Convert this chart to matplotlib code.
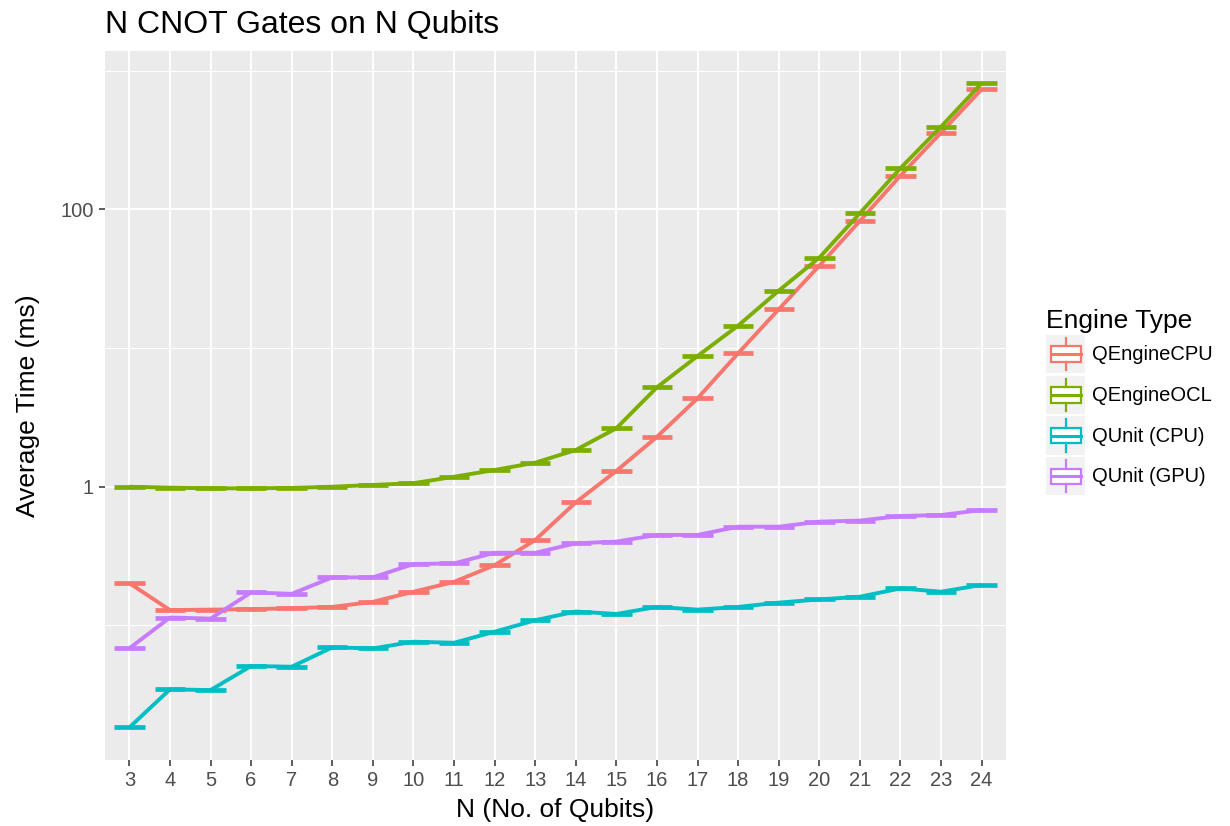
# N CNOT gates on N qubits - tiempos promedio por motor
import numpy as np
import matplotlib.pyplot as plt
from matplotlib.legend_handler import HandlerBase
from matplotlib.patches import Rectangle
from matplotlib.lines import Line2D
from matplotlib.ticker import NullFormatter

plt.rcParams["font.family"] = ["Liberation Sans", "DejaVu Sans"]

# Datos (ms)
n_qubits = list(range(3, 25))
engines = ["QEngineCPU", "QEngineOCL", "QUnit (CPU)", "QUnit (GPU)"]
colores = ["#F8766D", "#7CAE00", "#00BFC4", "#C77CFF"]

qengine_cpu = [0.202, 0.129, 0.130, 0.131, 0.133, 0.136, 0.148, 0.175, 0.206, 0.272,
               0.413, 0.772, 1.30, 2.29, 4.34, 9.16, 19.0, 39.2, 82.4, 175, 357, 733]
qengine_ocl = [1.00, 0.984, 0.974, 0.974, 0.980, 1.00, 1.03, 1.06, 1.18, 1.32,
               1.49, 1.84, 2.64, 5.21, 8.75, 14.5, 25.9, 44.8, 93.6, 198, 394, 810]
qunit_cpu = [0.0184, 0.0346, 0.0342, 0.0510, 0.0504, 0.0695, 0.0683, 0.0763, 0.0750, 0.0901,
             0.109, 0.126, 0.121, 0.136, 0.130, 0.136, 0.146, 0.154, 0.161, 0.185, 0.175, 0.196]
qunit_gpu = [0.0684, 0.114, 0.112, 0.173, 0.169, 0.222, 0.222, 0.277, 0.280, 0.334,
             0.334, 0.391, 0.402, 0.449, 0.449, 0.515, 0.515, 0.560, 0.570, 0.615, 0.625, 0.679]

series = [qengine_cpu, qengine_ocl, qunit_cpu, qunit_gpu]


class BoxHandler(HandlerBase):
    # glifo tipo boxplot para la leyenda
    def create_artists(self, legend, orig_handle, xdescent, ydescent,
                       width, height, fontsize, trans):
        c = orig_handle.get_color()
        fondo = Rectangle((-xdescent, -ydescent), width, height,
                          facecolor="#F2F2F2", edgecolor="none", transform=trans)
        bx = -xdescent + width * 0.12
        bw = width * 0.76
        by = -ydescent + height * 0.3
        bh = height * 0.4
        caja = Rectangle((bx, by), bw, bh, facecolor="white", edgecolor=c,
                         lw=1.6, transform=trans)
        med = Line2D([bx, bx + bw], [by + bh / 2] * 2, color=c, lw=2.2, transform=trans)
        xm = -xdescent + width / 2
        w1 = Line2D([xm, xm], [-ydescent + height * 0.08, by], color=c, lw=1.6, transform=trans)
        w2 = Line2D([xm, xm], [by + bh, -ydescent + height * 0.92], color=c, lw=1.6, transform=trans)
        return [fondo, caja, med, w1, w2]


fig = plt.figure(figsize=(12.3, 8.26), dpi=100)
ax = fig.add_axes([105 / 1230, 1 - 760 / 826, (1006 - 105) / 1230, (760 - 51) / 826])
ax.set_facecolor("#EBEBEB")
ax.set_yscale("log")

handles = []
for datos, color, nombre in zip(series, colores, engines):
    ax.plot(n_qubits, datos, color=color, lw=2.8, solid_capstyle="butt", zorder=3)
    ax.hlines(datos, np.array(n_qubits) - 0.375, np.array(n_qubits) + 0.375,
              color=color, lw=3.4, zorder=3)
    handles.append(Line2D([], [], color=color, label=nombre))

ax.set_xlim(2.4, 24.6)
ax.set_ylim(10 ** -1.970, 10 ** 3.141)
ax.set_xticks(n_qubits)
ax.set_xticklabels([str(n) for n in n_qubits])
ax.set_yticks([1, 100])
ax.set_yticklabels(["1", "100"])
ax.set_yticks([0.1, 10, 1000], minor=True)
ax.yaxis.set_minor_formatter(NullFormatter())
ax.grid(which="major", color="white", lw=1.4)
ax.grid(which="minor", axis="y", color="white", lw=0.7)
ax.set_axisbelow(True)
for s in ax.spines.values():
    s.set_visible(False)
ax.tick_params(which="major", length=4.5, width=1.1, color="#333333",
               labelcolor="#4D4D4D", labelsize=14.5, pad=3.5)
ax.tick_params(which="minor", length=0)

ax.set_title("N CNOT Gates on N Qubits", loc="left", fontsize=23, pad=13)
ax.set_xlabel("N (No. of Qubits)", fontsize=19, labelpad=6)
ax.set_ylabel("Average Time (ms)", fontsize=19)
ax.yaxis.set_label_coords((40 - 105) / 901, 0.5)

leg = fig.legend(handles=handles, handler_map={Line2D: BoxHandler()},
                 loc="center left", bbox_to_anchor=(1032 / 1230, 1 - 402 / 826),
                 frameon=False, title="Engine Type", title_fontsize=19, fontsize=14.5,
                 handlelength=1.95, handleheight=2.55, labelspacing=0.12,
                 handletextpad=0.35, alignment="left", borderpad=0.2)
leg._legend_handle_box.sep = 18

fig.savefig("out.png", dpi=100)
